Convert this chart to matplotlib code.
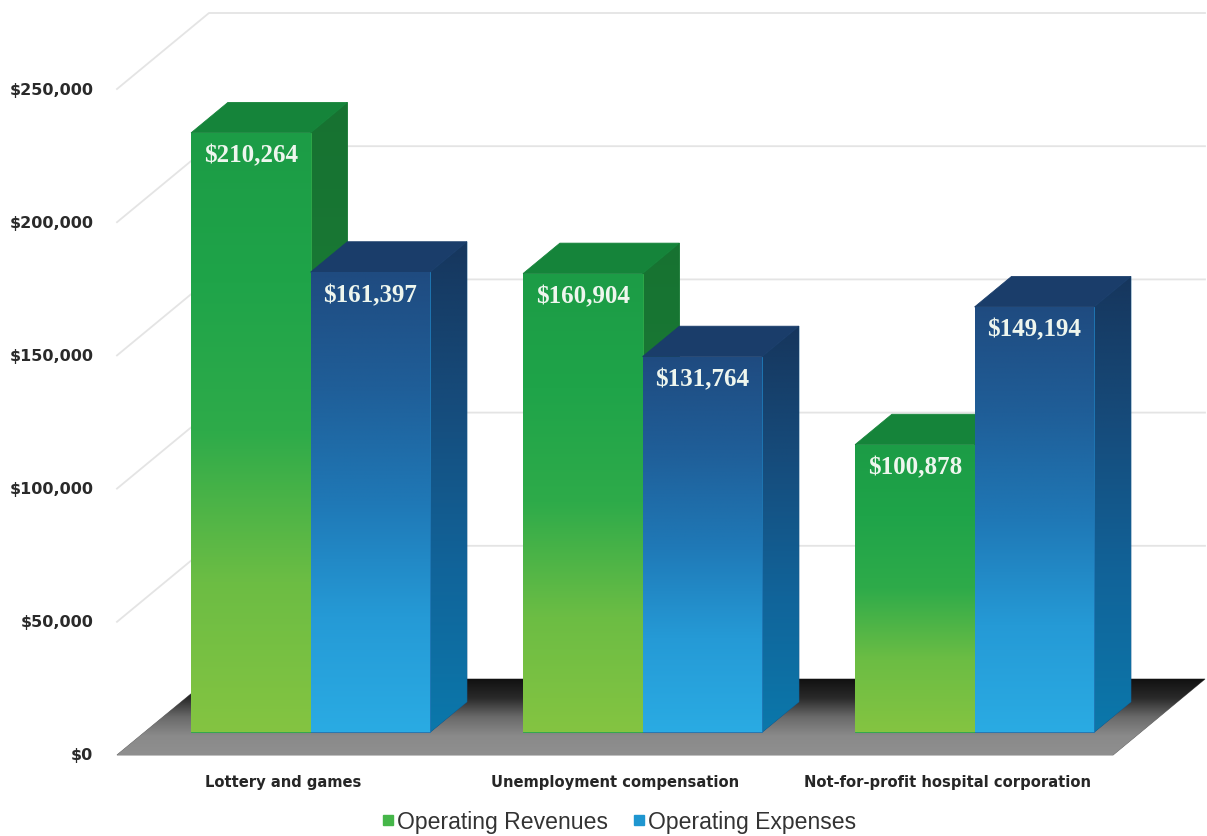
import numpy as np
import matplotlib.pyplot as plt
from matplotlib.patches import Polygon
from matplotlib.colors import LinearSegmentedColormap
from matplotlib.lines import Line2D

categories = ["Lottery and games", "Unemployment compensation",
              "Not-for-profit hospital corporation"]
revenues = [210264, 160904, 100878]
expenses = [161397, 131764, 149194]
series_names = ["Operating Revenues", "Operating Expenses"]
tick_values = [0, 50000, 100000, 150000, 200000, 250000]
tick_labels = ["$0", "$50,000", "$100,000", "$150,000", "$200,000", "$250,000"]

# gradient stops: bottom -> top
green_front = ["#84c441", "#6cbd44", "#2eab4a", "#1fa449", "#1c9c46"]
green_side = ["#1d8a3d", "#1a7d37", "#177231"]
green_top = "#15843a"
blue_front = ["#2aabe3", "#259ad6", "#1f78b6", "#1f5e98", "#1f4b80"]
blue_side = ["#0b78ab", "#11649a", "#164c7c", "#16365d"]
blue_top = "#1a3d6a"
floor_colors = ["#8f8f8f", "#8a8a8a", "#6a6a6a", "#2a2a2a", "#111111"]

fig = plt.figure(figsize=(12.07, 8.37), dpi=100)
ax = fig.add_axes([0, 0, 1, 1])
ax.axis("off")

# front edge of the floor in pixels, $0 and $250,000 heights from the bottom
left_px, right_px = 117, 1113
base_px, top_px = 81, 747
xs = 3 / (right_px - left_px)
ys = 250000 / (top_px - base_px)
DX, DY = 92 * xs, 76 * ys      # offset of the full depth
Z0, Z1 = 0.3, 0.7              # bars sit in the middle of the depth
BAR_W = 0.36
PERSP = 1.07                   # bars are drawn a little closer to the eye

layer = [1.0]   # painter's order


def next_z():
    layer[0] += 0.1
    return layer[0]


def proj(x, v, z):
    return (x + z * DX, v + z * DY)


def shade(pts, colors):
    cmap = LinearSegmentedColormap.from_list("", colors)
    zo = next_z()
    poly = Polygon(pts, closed=True, fc=cmap(0.5), ec=cmap(0.5), lw=0.6, zorder=zo)
    ax.add_patch(poly)
    px = [p[0] for p in pts]
    pv = [p[1] for p in pts]
    grad = np.linspace(0, 1, 256).reshape(-1, 1)
    im = ax.imshow(grad, cmap=cmap, origin="lower", aspect="auto",
                   interpolation="bilinear", zorder=zo + 0.05,
                   extent=[min(px), max(px), min(pv), max(pv)])
    im.set_clip_path(poly)


# floor
floor = [proj(-0.5, 0, 0), proj(2.5, 0, 0), proj(2.5, 0, 1), proj(-0.5, 0, 1)]
shade(floor, floor_colors)

# side wall and back wall gridlines
for v in tick_values[1:]:
    a, b = proj(-0.5, v, 0), proj(-0.5, v, 1)
    c = proj(2.5, v, 1)
    ax.plot([a[0], b[0], c[0]], [a[1], b[1], c[1]], color="#e4e4e4", lw=1.3,
            zorder=next_z())


def bar3d(xl, xr, value, front, side, top):
    h = value * PERSP
    shade([proj(xr, 0, Z0), proj(xr, 0, Z1), proj(xr, h, Z1), proj(xr, h, Z0)], side)
    ax.add_patch(Polygon([proj(xl, h, Z0), proj(xr, h, Z0), proj(xr, h, Z1),
                          proj(xl, h, Z1)], closed=True, fc=top, ec=top, lw=0.6,
                         zorder=next_z()))
    shade([proj(xl, 0, Z0), proj(xr, 0, Z0), proj(xr, h, Z0), proj(xl, h, Z0)], front)
    ax.annotate(f"${value:,}", proj((xl + xr) / 2, h, Z0), xytext=(0, -16),
                textcoords="offset points", ha="center", va="center",
                color="#eef6ee", fontsize=18, fontweight="bold",
                family=["Liberation Serif", "DejaVu Serif"], zorder=50)


for i in range(len(categories)):
    bar3d(i - BAR_W, i, revenues[i], green_front, green_side, green_top)
    bar3d(i, i + BAR_W, expenses[i], blue_front, blue_side, blue_top)
    ax.annotate(categories[i], (i, 0), xytext=(0, -14), textcoords="offset points",
                ha="center", va="top", fontsize=10.6, fontweight="bold",
                color="#262626")

for v, lab in zip(tick_values, tick_labels):
    ax.annotate(lab, (-0.5, v), xytext=(-17, 0), textcoords="offset points",
                ha="right", va="center", fontsize=11.5, fontweight="bold",
                color="#2a2a2a")

handles = [Line2D([], [], ls="none", marker="s", ms=6.5, color="#45b649"),
           Line2D([], [], ls="none", marker="s", ms=6.5, color="#1f96d0")]
fig.legend(handles, series_names, loc="center", bbox_to_anchor=(0.513, 0.017),
           ncol=2, frameon=False, handlelength=0.5, handletextpad=0.15,
           columnspacing=1.1, prop={"family": "Liberation Sans", "size": 16.6},
           labelcolor="#333333")

ax.set_xlim(-0.5 - left_px * xs, -0.5 + (1207 - left_px) * xs)
ax.set_ylim(-base_px * ys, (837 - base_px) * ys)

fig.savefig("out.png", dpi=100)
